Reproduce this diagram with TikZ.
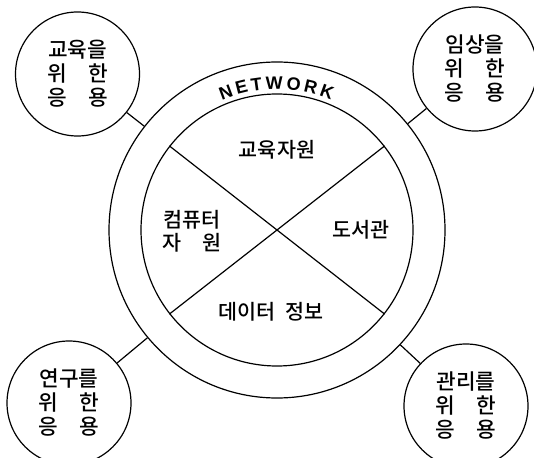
\documentclass[tikz,border=0pt]{standalone}
\usepackage{fontspec}
\newfontfamily\krfont{Noto Sans CJK KR Medium}
\newfontfamily\netfont{Liberation Sans}
\usetikzlibrary{decorations.text}

\begin{document}
\begin{tikzpicture}[
  x=0.75pt, y=0.75pt, line width=0.9pt,
  ring/.style={draw, circle, inner sep=0pt, minimum size=#1},
  app/.style={draw, circle, inner sep=0pt, minimum size=93pt,
              align=center, font=\krfont\fontsize{16}{18}\selectfont},
  part/.style={align=center, font=\krfont\fontsize{15.5}{17}\selectfont},
]
\useasboundingbox (0,0) rectangle (534,457);
\clip (0,0) rectangle (534,457);
%% Network ring
\node[ring=252pt] at (277,227) (net)  {};
\node[ring=204pt] at (277,227) (core) {};
\draw (core.142) -- (core.-38);
\draw (core.38)  -- (core.218);
\path[decorate, decoration={text along path, text align={fit to path},
  text={|\netfont\bfseries\fontsize{13.5}{13.5}\selectfont|NETWORK}}]
  (277,227) ++(113:141) arc[start angle=113, end angle=67.5, radius=141];
%% Resources
\node[part] at (277,307) (edures) {교육자원};
\node[part] at (192,226) (comp)   {컴퓨터\\자　원};
\node[part] at (361,227) (lib)    {도서관};
\node[part] at (271,145) (info)   {데이터\enspace 정보};
%% Applications
\node[app] at (77.5,383) (edu)  {교육을\\위　한\\응　용};
\node[app] at (475,388)  (clin) {임상을\\위　한\\응　용};
\node[app] at (69,54)    (res)  {연구를\\위　한\\응　용};
\node[app] at (466,51)   (adm)  {관리를\\위　한\\응　용};
\foreach \n in {edu, clin, res, adm}
  \draw (\n) -- (net);
\end{tikzpicture}
\end{document}
